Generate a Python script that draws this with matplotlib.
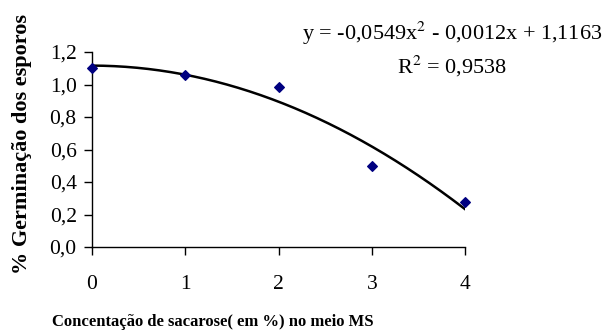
import numpy as np
import matplotlib
matplotlib.use("Agg")
import matplotlib.pyplot as plt

plt.rcParams['font.family'] = ['Liberation Serif', 'DejaVu Serif']
plt.rcParams['mathtext.fontset'] = 'stix'

# data
conc = [0, 1, 2, 3, 4]
germ = [1.10, 1.06, 0.985, 0.50, 0.275]
coef = [-0.0549, -0.0012, 1.1163]   # trendline y = a x^2 + b x + c
r2 = 0.9538
xticks = [0, 1, 2, 3, 4]
yticks = [0.0, 0.2, 0.4, 0.6, 0.8, 1.0, 1.2]

fig = plt.figure(figsize=(6.07, 3.34), dpi=100)
ax = fig.add_axes([92/607, 1-247/334, (465-92)/607, (247-52)/334])

xs = np.linspace(conc[0], conc[-1], 200)
ax.plot(xs, np.polyval(coef, xs), color='black', lw=1.8, zorder=2)
ax.scatter(conc, germ, marker='D', s=24, color='#000080', zorder=3, clip_on=False)

ax.set_xlim(0, 4)
ax.set_ylim(0, 1.2)
ax.set_xticks(xticks)
ax.set_xticklabels([str(t) for t in xticks])
ax.set_yticks(yticks)
ax.set_yticklabels([f"{t:.1f}".replace('.', ',') for t in yticks])
for s in ['top', 'right']:
    ax.spines[s].set_visible(False)
for s in ['left', 'bottom']:
    ax.spines[s].set_color('black')
    ax.spines[s].set_linewidth(1.0)
ax.tick_params(axis='both', labelsize=15.5, length=6, width=1.0, color='black', direction='out')
ax.tick_params(axis='x', pad=14)
ax.tick_params(axis='y', pad=5)

fig.text(22/607, 1-144/334, "% Germinação dos esporos", rotation=90, ha='center', va='center',
         fontsize=16, fontweight='bold')
fig.text(213/607, 1-322/334, "Concentação de sacarose( em %) no meio MS", ha='center', va='center',
         fontsize=12, fontweight='bold')

eq = (f"y = {coef[0]:.4f}x$^2$ - {abs(coef[1]):.4f}x + {coef[2]:.4f}").replace('.', ',')
fig.text(452/607, 1-33/334, eq, ha='center', va='center', fontsize=16)
fig.text(452/607, 1-66/334, f"R$^2$ = {r2:.4f}".replace('.', ','), ha='center', va='center', fontsize=16)

fig.savefig("out.png", dpi=100)
